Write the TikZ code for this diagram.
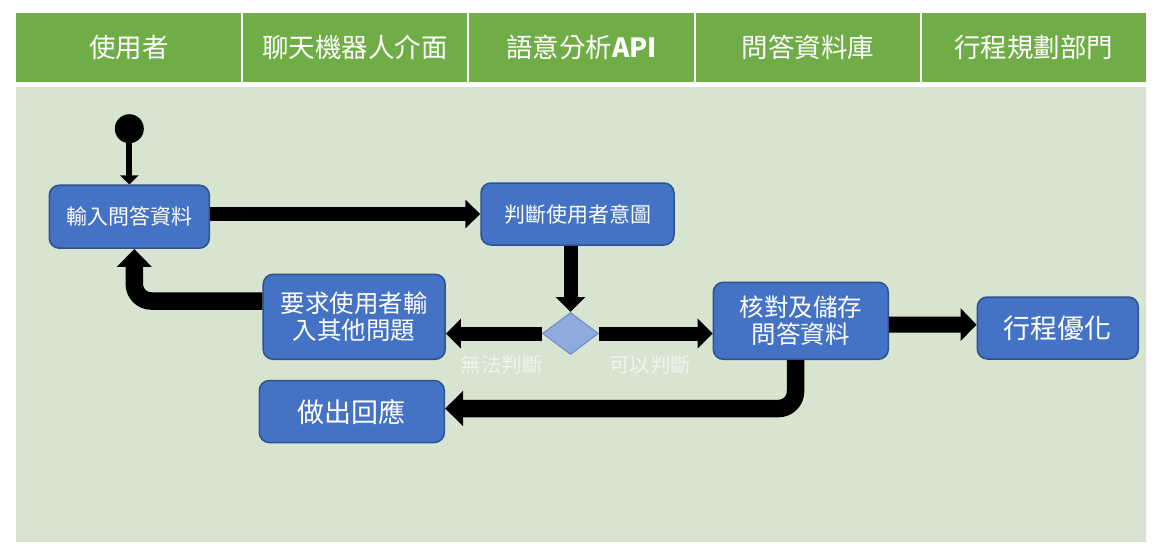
\documentclass[tikz,border=0pt]{standalone}
\usepackage{fontspec}
\setmainfont{Noto Sans CJK TC}
\usetikzlibrary{arrows.meta,shapes.geometric}
\definecolor{hdrgreen}{RGB}{112,173,71}
\definecolor{bodygreen}{RGB}{215,228,207}
\definecolor{boxblue}{RGB}{68,114,196}
\definecolor{boxedge}{RGB}{47,82,143}
\definecolor{diafill}{RGB}{143,170,220}
\definecolor{diaedge}{RGB}{110,140,205}
\definecolor{lbltext}{RGB}{240,244,238}
\begin{document}
\begin{tikzpicture}[x=1pt,y=-1pt,
  act/.style={draw=boxedge, line width=1.5pt, fill=boxblue, rounded corners=10pt,
    text=white, align=center, inner sep=0pt},
  smalltxt/.style={font=\fontsize{21}{25}\selectfont},
  bigtxt/.style={font=\fontsize{24.5}{27}\selectfont},
  hugetxt/.style={font=\fontsize{27}{30}\selectfont},
  lanehdr/.style={text=white, font=\fontsize{26.5}{30}\selectfont},
  lbl/.style={text=lbltext, font=\fontsize{20.5}{24}\selectfont},
  flow/.style={line width=14pt, -{Triangle[length=15pt,width=29pt]}},
  flowthick/.style={line width=17.5pt, rounded corners=17pt, -{Triangle[length=18pt,width=34pt]}},
  stem/.style={line width=6pt, -{Triangle[length=9pt,width=18pt]}}
]
\useasboundingbox (0,0) rectangle (1175,557);
% header and body
\fill[hdrgreen] (16,13) rectangle (1146,82);
\fill[bodygreen] (16,87) rectangle (1146,542);
\foreach \xx in {242,468,695,921} \draw[white, line width=2pt] (\xx,13) -- (\xx,82);
\node[lanehdr] (h1) at (129,47.5) {使用者};
\node[lanehdr] (h2) at (355,47.5) {聊天機器人介面};
\node[lanehdr] (h3) at (581.5,47.5) {語意分析{\bfseries API}};
\node[lanehdr] (h4) at (808,47.5) {問答資料庫};
\node[lanehdr] (h5) at (1033.5,47.5) {行程規劃部門};
% nodes
\node[circle, fill=black, minimum size=29pt, inner sep=0pt] (st) at (129.3,128.7) {};
\node[act, smalltxt, minimum width=160pt, minimum height=63pt] (in) at (129.3,216.7) {輸入問答資料};
\node[act, smalltxt, minimum width=193pt, minimum height=62pt] (jud) at (577.5,214) {判斷使用者意圖};
\node[diamond, draw=diaedge, fill=diafill, line width=1pt, minimum width=56pt, minimum height=42pt, inner sep=0pt] (dia) at (570.5,333.5) {};
\node[act, bigtxt, minimum width=182pt, minimum height=85pt] (req) at (354.2,316.8) {要求使用者輸\\入其他問題};
\node[act, hugetxt, minimum width=185pt, minimum height=62pt] (resp) at (351.8,411.5) {做出回應};
\node[act, bigtxt, minimum width=175pt, minimum height=77pt] (chk) at (800.8,320.8) {核對及儲存\\問答資料};
\node[act, hugetxt, minimum width=161pt, minimum height=62pt] (opt) at (1057.8,328) {行程優化};
\node[lbl] (l1) at (501.7,365) {無法判斷};
\node[lbl] (l2) at (650,365) {可以判斷};
% connectors
\draw[stem] (st) -- (in);
\draw[flow, line width=13.3pt, -{Triangle[length=15pt,width=28pt]}] (in.east |- jud.west) -- (jud.west);
\draw[flow] (jud.south -| dia.north) -- (dia.north);
\draw[flow] (dia.west) -- (req.east |- dia.west);
\draw[flow] (dia.east) -- (chk.west |- dia.east);
\draw[flow, line width=16pt, -{Triangle[length=16pt,width=32pt]}] ([yshift=-3.8pt]chk.east) -- ([yshift=3.3pt]opt.west);
\draw[flowthick] ([yshift=15.8pt]req.west) -| ([xshift=5pt]in.south);
\draw[flowthick] ([xshift=-5.3pt]chk.south) |- ([yshift=3pt]resp.east);
\end{tikzpicture}
\end{document}
